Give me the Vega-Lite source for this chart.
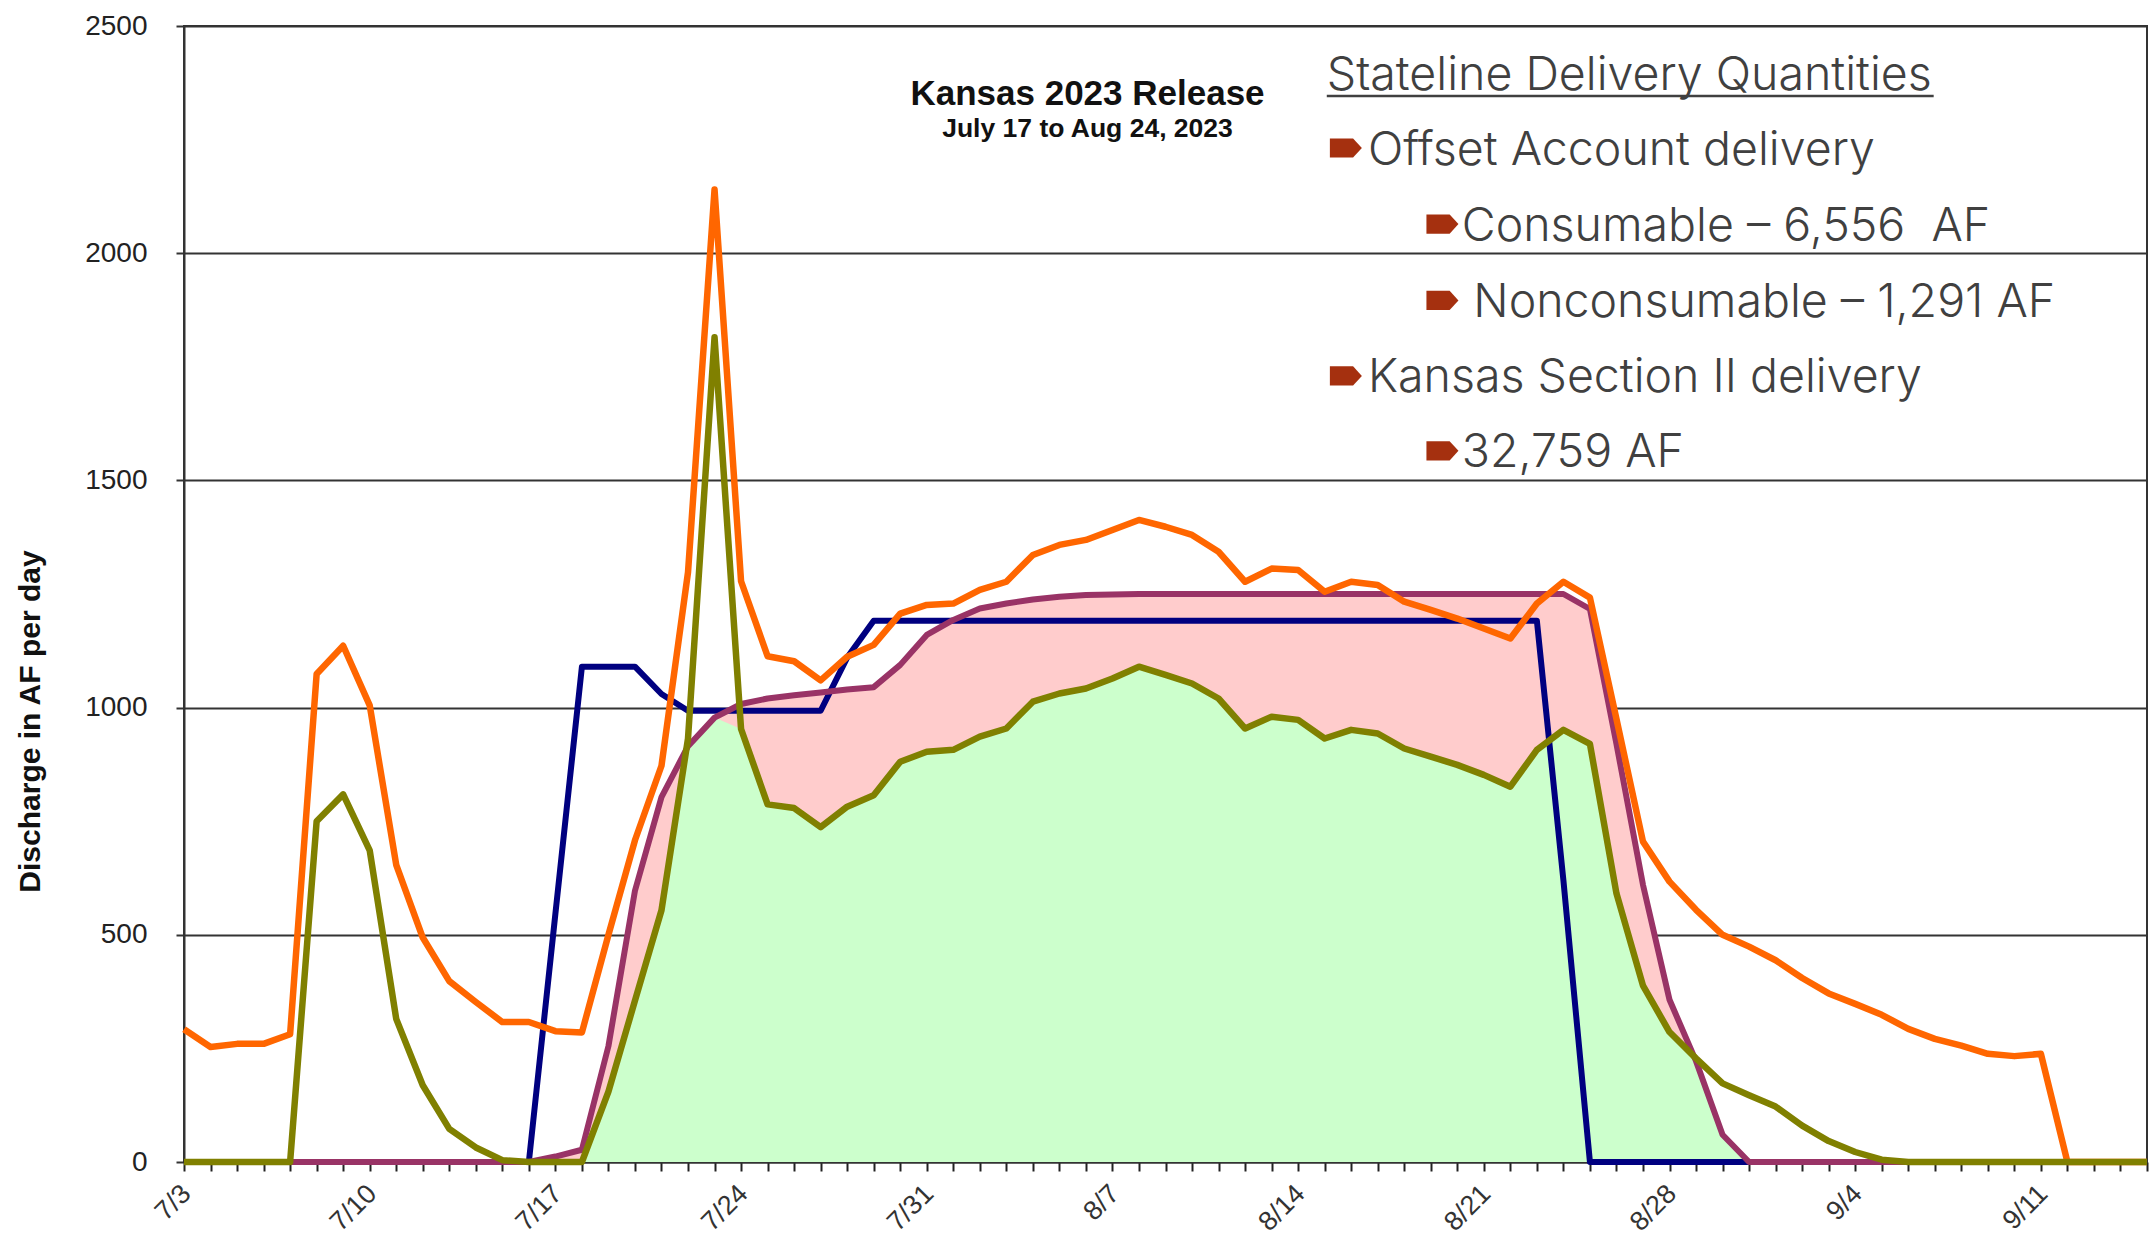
{
  "$schema": "https://vega.github.io/schema/vega-lite/v6.json",
  "autosize": "none",
  "padding": {"left": 184, "top": 26, "right": 2, "bottom": 81},
  "width": 1963,
  "height": 1136,
  "background": "white",
  "config": {"view": {"stroke": "#333", "strokeWidth": 2}, "font": "Liberation Sans"},
  "data": {"values": [
    {"date":"2023-07-03","orange":292,"olive":0,"purple":0,"navy":0,"fillTop":0},
    {"date":"2023-07-04","orange":253,"olive":0,"purple":0,"navy":0,"fillTop":0},
    {"date":"2023-07-05","orange":260,"olive":0,"purple":0,"navy":0,"fillTop":0},
    {"date":"2023-07-06","orange":260,"olive":0,"purple":0,"navy":0,"fillTop":0},
    {"date":"2023-07-07","orange":281,"olive":0,"purple":0,"navy":0,"fillTop":0},
    {"date":"2023-07-08","orange":1074,"olive":750,"purple":0,"navy":0,"fillTop":0},
    {"date":"2023-07-09","orange":1136,"olive":809,"purple":0,"navy":0,"fillTop":0},
    {"date":"2023-07-10","orange":1005,"olive":686,"purple":0,"navy":0,"fillTop":0},
    {"date":"2023-07-11","orange":654,"olive":315,"purple":0,"navy":0,"fillTop":0},
    {"date":"2023-07-12","orange":494,"olive":169,"purple":0,"navy":0,"fillTop":0},
    {"date":"2023-07-13","orange":398,"olive":73,"purple":0,"navy":0,"fillTop":0},
    {"date":"2023-07-14","orange":352,"olive":32,"purple":0,"navy":0,"fillTop":0},
    {"date":"2023-07-15","orange":308,"olive":4,"purple":0,"navy":0,"fillTop":0},
    {"date":"2023-07-16","orange":308,"olive":0,"purple":0,"navy":0,"fillTop":0},
    {"date":"2023-07-17","orange":288,"olive":0,"purple":12,"navy":546,"fillTop":0},
    {"date":"2023-07-18","orange":285,"olive":0,"purple":27,"navy":1090,"fillTop":0},
    {"date":"2023-07-19","orange":500,"olive":155,"purple":255,"navy":1090,"fillTop":155},
    {"date":"2023-07-20","orange":708,"olive":355,"purple":597,"navy":1090,"fillTop":355},
    {"date":"2023-07-21","orange":872,"olive":554,"purple":803,"navy":1030,"fillTop":554},
    {"date":"2023-07-22","orange":1298,"olive":932,"purple":915,"navy":993,"fillTop":915},
    {"date":"2023-07-23","orange":2140,"olive":1815,"purple":978,"navy":993,"fillTop":978},
    {"date":"2023-07-24","orange":1278,"olive":953,"purple":1008,"navy":993,"fillTop":953},
    {"date":"2023-07-25","orange":1113,"olive":787,"purple":1020,"navy":993,"fillTop":787},
    {"date":"2023-07-26","orange":1102,"olive":779,"purple":1027,"navy":993,"fillTop":779},
    {"date":"2023-07-27","orange":1060,"olive":737,"purple":1033,"navy":993,"fillTop":737},
    {"date":"2023-07-28","orange":1112,"olive":782,"purple":1040,"navy":1110,"fillTop":782},
    {"date":"2023-07-29","orange":1138,"olive":807,"purple":1045,"navy":1191,"fillTop":807},
    {"date":"2023-07-30","orange":1207,"olive":881,"purple":1094,"navy":1191,"fillTop":881},
    {"date":"2023-07-31","orange":1226,"olive":903,"purple":1160,"navy":1191,"fillTop":903},
    {"date":"2023-08-01","orange":1229,"olive":907,"purple":1193,"navy":1191,"fillTop":907},
    {"date":"2023-08-02","orange":1259,"olive":936,"purple":1218,"navy":1191,"fillTop":936},
    {"date":"2023-08-03","orange":1277,"olive":954,"purple":1229,"navy":1191,"fillTop":954},
    {"date":"2023-08-04","orange":1336,"olive":1013,"purple":1238,"navy":1191,"fillTop":1013},
    {"date":"2023-08-05","orange":1358,"olive":1031,"purple":1244,"navy":1191,"fillTop":1031},
    {"date":"2023-08-06","orange":1369,"olive":1042,"purple":1248,"navy":1191,"fillTop":1042},
    {"date":"2023-08-07","orange":1391,"olive":1064,"purple":1249,"navy":1191,"fillTop":1064},
    {"date":"2023-08-08","orange":1413,"olive":1090,"purple":1250,"navy":1191,"fillTop":1090},
    {"date":"2023-08-09","orange":1398,"olive":1072,"purple":1250,"navy":1191,"fillTop":1072},
    {"date":"2023-08-10","orange":1380,"olive":1053,"purple":1250,"navy":1191,"fillTop":1053},
    {"date":"2023-08-11","orange":1343,"olive":1020,"purple":1250,"navy":1191,"fillTop":1020},
    {"date":"2023-08-12","orange":1277,"olive":954,"purple":1250,"navy":1191,"fillTop":954},
    {"date":"2023-08-13","orange":1306,"olive":980,"purple":1250,"navy":1191,"fillTop":980},
    {"date":"2023-08-14","orange":1303,"olive":973,"purple":1250,"navy":1191,"fillTop":973},
    {"date":"2023-08-15","orange":1255,"olive":932,"purple":1250,"navy":1191,"fillTop":932},
    {"date":"2023-08-16","orange":1277,"olive":951,"purple":1250,"navy":1191,"fillTop":951},
    {"date":"2023-08-17","orange":1270,"olive":943,"purple":1250,"navy":1191,"fillTop":943},
    {"date":"2023-08-18","orange":1233,"olive":910,"purple":1250,"navy":1191,"fillTop":910},
    {"date":"2023-08-19","orange":1215,"olive":892,"purple":1250,"navy":1191,"fillTop":892},
    {"date":"2023-08-20","orange":1196,"olive":874,"purple":1250,"navy":1191,"fillTop":874},
    {"date":"2023-08-21","orange":1174,"olive":852,"purple":1250,"navy":1191,"fillTop":852},
    {"date":"2023-08-22","orange":1152,"olive":826,"purple":1250,"navy":1191,"fillTop":826},
    {"date":"2023-08-23","orange":1229,"olive":907,"purple":1250,"navy":1191,"fillTop":907},
    {"date":"2023-08-24","orange":1277,"olive":951,"purple":1250,"navy":620,"fillTop":951},
    {"date":"2023-08-25","orange":1242,"olive":920,"purple":1217,"navy":0,"fillTop":920},
    {"date":"2023-08-26","orange":975,"olive":591,"purple":920,"navy":0,"fillTop":591},
    {"date":"2023-08-27","orange":705,"olive":388,"purple":610,"navy":0,"fillTop":388},
    {"date":"2023-08-28","orange":617,"olive":286,"purple":357,"navy":0,"fillTop":286},
    {"date":"2023-08-29","orange":555,"olive":228,"purple":222,"navy":0,"fillTop":222},
    {"date":"2023-08-30","orange":500,"olive":173,"purple":60,"navy":0,"fillTop":60},
    {"date":"2023-08-31","orange":474,"olive":147,"purple":0,"navy":0,"fillTop":0},
    {"date":"2023-09-01","orange":444,"olive":122,"purple":0,"navy":0,"fillTop":0},
    {"date":"2023-09-02","orange":405,"olive":80,"purple":0,"navy":0,"fillTop":0},
    {"date":"2023-09-03","orange":371,"olive":46,"purple":0,"navy":0,"fillTop":0},
    {"date":"2023-09-04","orange":348,"olive":22,"purple":0,"navy":0,"fillTop":0},
    {"date":"2023-09-05","orange":324,"olive":5,"purple":0,"navy":0,"fillTop":0},
    {"date":"2023-09-06","orange":293,"olive":0,"purple":0,"navy":0,"fillTop":0},
    {"date":"2023-09-07","orange":271,"olive":0,"purple":0,"navy":0,"fillTop":0},
    {"date":"2023-09-08","orange":256,"olive":0,"purple":0,"navy":0,"fillTop":0},
    {"date":"2023-09-09","orange":238,"olive":0,"purple":0,"navy":0,"fillTop":0},
    {"date":"2023-09-10","orange":233,"olive":0,"purple":0,"navy":0,"fillTop":0},
    {"date":"2023-09-11","orange":238,"olive":0,"purple":0,"navy":0,"fillTop":0},
    {"date":"2023-09-12","orange":0,"olive":0,"purple":0,"navy":0,"fillTop":0},
    {"date":"2023-09-13","orange":0,"olive":0,"purple":0,"navy":0,"fillTop":0},
    {"date":"2023-09-14","orange":0,"olive":0,"purple":0,"navy":0,"fillTop":0},
    {"date":"2023-09-15","orange":0,"olive":0,"purple":0,"navy":0,"fillTop":0}
  ]},
  "layer": [
    {
      "encoding": {
        "x": {
          "field": "date", "type": "temporal", "title": null,
          "scale": {"type": "utc", "domain": [{"year": 2023, "month": 7, "date": 3, "utc": true}, {"year": 2023, "month": 9, "date": 15, "utc": true}]},
          "axis": {
            "tickCount": {"interval": "day", "step": 1},
            "labelExpr": "utcday(datum.value) == 1 ? utcFormat(datum.value, '%-m/%-d') : ''",
            "labelAngle": -45, "labelAlign": "right", "labelBaseline": "top",
            "labelPadding": 9, "labelOffset": -7, "labelFlush": false, "labelOverlap": false, "labelBound": false,
            "labelFont": "Liberation Sans", "labelFontSize": 27, "labelColor": "#333",
            "tickSize": 9, "tickColor": "#222", "tickWidth": 2,
            "domainColor": "#333", "domainWidth": 2, "grid": false
          }
        }
      },
      "layer": [
        {
          "mark": {"type": "area", "color": "#FFCCCC", "opacity": 1, "interpolate": "linear"},
          "encoding": {
            "y": {
              "field": "purple", "type": "quantitative", "title": "Discharge in AF per day",
              "scale": {"domain": [0, 2500], "nice": false},
              "axis": {
                "values": [0, 500, 1000, 1500, 2000, 2500], "format": "d",
                "grid": true, "gridColor": "#333", "gridWidth": 2,
                "domainColor": "#333", "domainWidth": 2,
                "tickColor": "#333", "tickWidth": 2, "tickSize": 8,
                "labelFont": "Liberation Sans", "labelFontSize": 28, "labelColor": "#222", "labelPadding": 29,
                "titleFont": "Liberation Sans", "titleFontSize": 30, "titleFontWeight": "bold", "titleColor": "#111",
                "titleX": -154, "titleY": 695, "titleAngle": -90, "titleAlign": "center", "titleBaseline": "middle"
              }
            }
          }
        },
        {
          "mark": {"type": "area", "color": "#CCFFCC", "opacity": 1, "interpolate": "linear"},
          "encoding": {"y": {"field": "fillTop", "type": "quantitative", "title": "Discharge in AF per day"}}
        },
        {
          "mark": {"type": "line", "color": "#000080", "strokeWidth": 6, "strokeJoin": "round"},
          "encoding": {"y": {"field": "navy", "type": "quantitative", "title": "Discharge in AF per day"}}
        },
        {
          "mark": {"type": "line", "color": "#993366", "strokeWidth": 6, "strokeJoin": "round"},
          "encoding": {"y": {"field": "purple", "type": "quantitative", "title": "Discharge in AF per day"}}
        },
        {
          "mark": {"type": "line", "color": "#FF6600", "strokeWidth": 6.5, "strokeJoin": "round"},
          "encoding": {"y": {"field": "orange", "type": "quantitative", "title": "Discharge in AF per day"}}
        },
        {
          "mark": {"type": "line", "color": "#808000", "strokeWidth": 6.5, "strokeJoin": "round"},
          "encoding": {"y": {"field": "olive", "type": "quantitative", "title": "Discharge in AF per day"}}
        }
      ]
    },
    {
      "data": {"values": [{}]},
      "mark": {"type": "text", "text": "Kansas 2023 Release", "align": "center", "baseline": "alphabetic", "font": "Liberation Sans", "fontSize": 35, "fontWeight": "bold", "color": "#111"},
      "encoding": {
        "x": {"datum": {"year": 2023, "month": 8, "date": 6, "hours": 1, "minutes": 26, "utc": true}, "type": "temporal"},
        "y": {"datum": 2326, "type": "quantitative"}
      }
    },
    {
      "data": {"values": [{}]},
      "mark": {"type": "text", "text": "July 17 to Aug 24, 2023", "align": "center", "baseline": "alphabetic", "font": "Liberation Sans", "fontSize": 26.5, "fontWeight": "bold", "color": "#111"},
      "encoding": {
        "x": {"datum": {"year": 2023, "month": 8, "date": 6, "hours": 1, "minutes": 26, "utc": true}, "type": "temporal"},
        "y": {"datum": 2256, "type": "quantitative"}
      }
    },
    {
      "data": {"values": [{}]},
      "mark": {"type": "text", "text": "Stateline Delivery Quantities", "align": "left", "baseline": "alphabetic", "font": "Inter", "fontSize": 46.5, "fontWeight": 300, "color": "#404040"},
      "encoding": {
        "x": {"datum": {"year": 2023, "month": 8, "date": 15, "hours": 1, "minutes": 55, "utc": true}, "type": "temporal"},
        "y": {"datum": 2359, "type": "quantitative"}
      }
    },
    {
      "data": {"values": [{}]},
      "mark": {"type": "rule", "color": "#404040", "strokeWidth": 2.5},
      "encoding": {
        "x": {"datum": {"year": 2023, "month": 8, "date": 15, "hours": 1, "minutes": 55, "utc": true}, "type": "temporal"},
        "x2": {"datum": {"year": 2023, "month": 9, "date": 6, "hours": 23, "utc": true}},
        "y": {"datum": 2346, "type": "quantitative"}
      }
    },
    {
      "data": {"values": [{}]},
      "mark": {"type": "text", "text": "Offset Account delivery", "align": "left", "baseline": "alphabetic", "font": "Inter", "fontSize": 46.5, "fontWeight": 300, "color": "#404040"},
      "encoding": {
        "x": {"datum": {"year": 2023, "month": 8, "date": 16, "hours": 15, "minutes": 7, "utc": true}, "type": "temporal"},
        "y": {"datum": 2194, "type": "quantitative"}
      }
    },
    {
      "data": {"values": [{}]},
      "mark": {"type": "text", "text": "Consumable – 6,556\u00a0 AF", "align": "left", "baseline": "alphabetic", "font": "Inter", "fontSize": 46.5, "fontWeight": 300, "color": "#404040"},
      "encoding": {
        "x": {"datum": {"year": 2023, "month": 8, "date": 20, "hours": 4, "minutes": 5, "utc": true}, "type": "temporal"},
        "y": {"datum": 2027.5, "type": "quantitative"}
      }
    },
    {
      "data": {"values": [{}]},
      "mark": {"type": "text", "text": "Nonconsumable – 1,291 AF", "align": "left", "baseline": "alphabetic", "font": "Inter", "fontSize": 46.5, "fontWeight": 300, "color": "#404040"},
      "encoding": {
        "x": {"datum": {"year": 2023, "month": 8, "date": 20, "hours": 14, "minutes": 30, "utc": true}, "type": "temporal"},
        "y": {"datum": 1860, "type": "quantitative"}
      }
    },
    {
      "data": {"values": [{}]},
      "mark": {"type": "text", "text": "Kansas Section II delivery", "align": "left", "baseline": "alphabetic", "font": "Inter", "fontSize": 46.5, "fontWeight": 300, "color": "#404040"},
      "encoding": {
        "x": {"datum": {"year": 2023, "month": 8, "date": 16, "hours": 15, "minutes": 7, "utc": true}, "type": "temporal"},
        "y": {"datum": 1695, "type": "quantitative"}
      }
    },
    {
      "data": {"values": [{}]},
      "mark": {"type": "text", "text": "32,759 AF", "align": "left", "baseline": "alphabetic", "font": "Inter", "fontSize": 46.5, "fontWeight": 300, "color": "#404040"},
      "encoding": {
        "x": {"datum": {"year": 2023, "month": 8, "date": 20, "hours": 4, "minutes": 5, "utc": true}, "type": "temporal"},
        "y": {"datum": 1530, "type": "quantitative"}
      }
    },
    {
      "data": {"values": [{}]},
      "mark": {"type": "point", "shape": "M -1 -0.6 L 0.45 -0.6 L 1 0 L 0.45 0.6 L -1 0.6 Z", "filled": true, "size": 1024, "color": "#A5300F", "opacity": 1, "strokeWidth": 0},
      "encoding": {
        "x": {"datum": {"year": 2023, "month": 8, "date": 15, "hours": 19, "minutes": 12, "utc": true}, "type": "temporal"},
        "y": {"datum": 2231.5, "type": "quantitative"}
      }
    },
    {
      "data": {"values": [{}]},
      "mark": {"type": "point", "shape": "M -1 -0.6 L 0.45 -0.6 L 1 0 L 0.45 0.6 L -1 0.6 Z", "filled": true, "size": 1024, "color": "#A5300F", "opacity": 1, "strokeWidth": 0},
      "encoding": {
        "x": {"datum": {"year": 2023, "month": 8, "date": 19, "hours": 10, "minutes": 34, "utc": true}, "type": "temporal"},
        "y": {"datum": 2064, "type": "quantitative"}
      }
    },
    {
      "data": {"values": [{}]},
      "mark": {"type": "point", "shape": "M -1 -0.6 L 0.45 -0.6 L 1 0 L 0.45 0.6 L -1 0.6 Z", "filled": true, "size": 1024, "color": "#A5300F", "opacity": 1, "strokeWidth": 0},
      "encoding": {
        "x": {"datum": {"year": 2023, "month": 8, "date": 19, "hours": 10, "minutes": 34, "utc": true}, "type": "temporal"},
        "y": {"datum": 1896, "type": "quantitative"}
      }
    },
    {
      "data": {"values": [{}]},
      "mark": {"type": "point", "shape": "M -1 -0.6 L 0.45 -0.6 L 1 0 L 0.45 0.6 L -1 0.6 Z", "filled": true, "size": 1024, "color": "#A5300F", "opacity": 1, "strokeWidth": 0},
      "encoding": {
        "x": {"datum": {"year": 2023, "month": 8, "date": 15, "hours": 19, "minutes": 12, "utc": true}, "type": "temporal"},
        "y": {"datum": 1730, "type": "quantitative"}
      }
    },
    {
      "data": {"values": [{}]},
      "mark": {"type": "point", "shape": "M -1 -0.6 L 0.45 -0.6 L 1 0 L 0.45 0.6 L -1 0.6 Z", "filled": true, "size": 1024, "color": "#A5300F", "opacity": 1, "strokeWidth": 0},
      "encoding": {
        "x": {"datum": {"year": 2023, "month": 8, "date": 19, "hours": 10, "minutes": 34, "utc": true}, "type": "temporal"},
        "y": {"datum": 1565, "type": "quantitative"}
      }
    }
  ]
}
